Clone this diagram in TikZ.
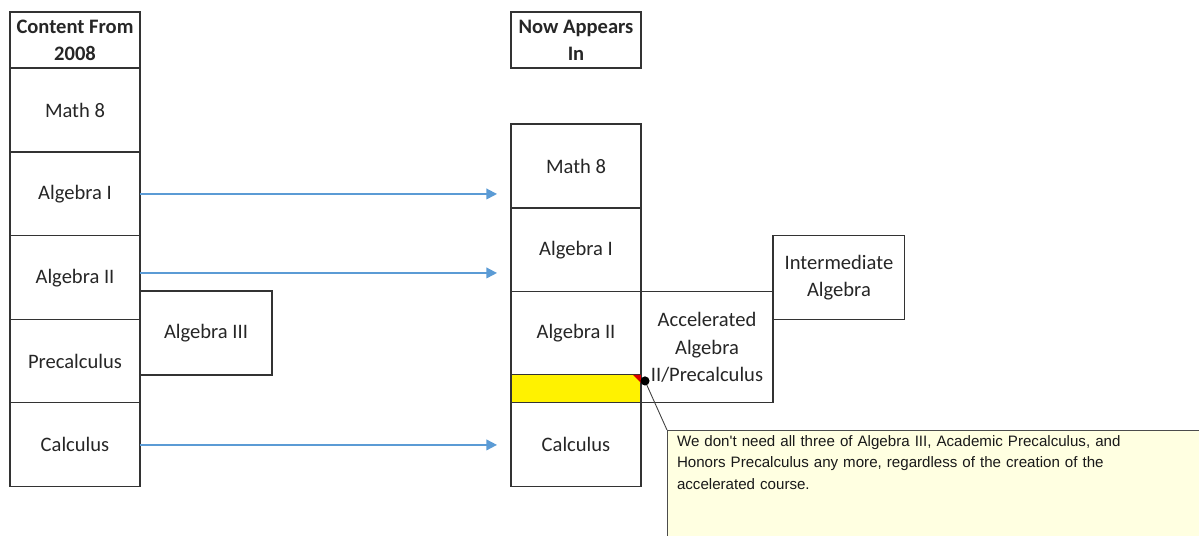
\documentclass[tikz,border=0pt]{standalone}
\usepackage{fontspec}
\usetikzlibrary{positioning, arrows.meta}
\newfontfamily\cellfont{Carlito}
\newfontfamily\notefont{Liberation Sans}
\definecolor{arrowblue}{RGB}{91,155,213}
\definecolor{noteyellow}{RGB}{255,255,225}

\begin{document}
\begin{tikzpicture}[
  x=0.02cm, y=-0.02cm,
  cell/.style={draw=black!80, line width=0.6pt, outer sep=0pt, inner sep=1pt,
               minimum width=2.6cm, minimum height=1.68cm, align=center,
               text=black!85, font=\cellfont\fontsize{11.7}{15.5}\selectfont},
  head/.style={cell, minimum height=1.12cm,
               font=\cellfont\bfseries\fontsize{11.7}{15.5}\selectfont},
  side/.style={cell, minimum width=2.64cm},
  arr/.style={-{Triangle[length=6pt, width=6pt]}, line width=1pt, color=arrowblue},
  note/.style={draw=black!70, line width=0.5pt, fill=noteyellow, anchor=north west,
               minimum width=12cm, text depth=2.4cm, text width=11.6cm,
               align=left, inner sep=3pt, outer sep=0pt, text=black!90,
               font=\notefont\fontsize{8.6}{12.3}\selectfont},
]
\useasboundingbox (0,0) rectangle (1199,535);
\clip (0,0) rectangle (1199,535);

% --- Content from 2008 (left column) ---
\node[head] (lhead) at (75,40) {Content From\\2008};
\node[cell, below=0pt of lhead] (lmath) {Math 8};
\node[cell, below=0pt of lmath] (lalg1) {Algebra I};
\node[cell, below=0pt of lalg1] (lalg2) {Algebra II};
\node[cell, below=0pt of lalg2, minimum height=1.66cm] (lpre) {Precalculus};
\node[cell, below=0pt of lpre] (lcalc) {Calculus};

\node[side, anchor=north west, minimum height=1.68cm] (lalg3) at (140,291) {Algebra III};

% --- Now appears in (right column) ---
\node[head] (rhead) at (576,40) {Now Appears\\In};
\node[cell, below=1.12cm of rhead] (rmath) {Math 8};
\node[cell, below=0pt of rmath] (ralg1) {Algebra I};
\node[cell, below=0pt of ralg1, minimum height=1.66cm] (ralg2) {Algebra II};
\node[cell, below=0pt of ralg2, minimum height=0.56cm, fill=yellow] (ryel) {};
\node[cell, below=0pt of ryel] (rcalc) {Calculus};

\node[side, anchor=north west, minimum height=2.22cm] (raccel) at (ralg2.north east)
  {Accelerated\\Algebra\\II/Precalculus};
\node[side, anchor=north west] (rinter) at ([yshift=1.12cm]raccel.north east)
  {Intermediate\\Algebra};

% --- Arrows across ---
\coordinate (s2) at ([yshift=0.1cm]lalg2.east);
\coordinate (t1) at ([xshift=-0.28cm]rmath.west |- lalg1.east);
\coordinate (t2) at ([xshift=-0.28cm]ralg1.west |- s2);
\coordinate (t3) at ([xshift=-0.28cm]rcalc.west);
\draw[arr] (lalg1.east) -- (t1);
\draw[arr] (s2) -- (t2);
\draw[arr] (lcalc.east) -- (t3);

% --- Comment marker and note ---
\fill[red!85!black] ([xshift=-0.16cm]ryel.north east) -- (ryel.north east)
  -- ([yshift=-0.16cm]ryel.north east) -- cycle;
\coordinate (pin) at ([xshift=0.08cm, yshift=-0.12cm]ryel.north east);
\node[note] (cmt) at (667,430)
  {We don't need all three of Algebra III, Academic Precalculus, and\\
   Honors Precalculus any more, regardless of the creation of the\\
   accelerated course.};
\draw[black!75, line width=0.5pt] (cmt.north west) -- (pin);
\fill[black] (pin) circle (2.6pt);

\end{tikzpicture}
\end{document}
